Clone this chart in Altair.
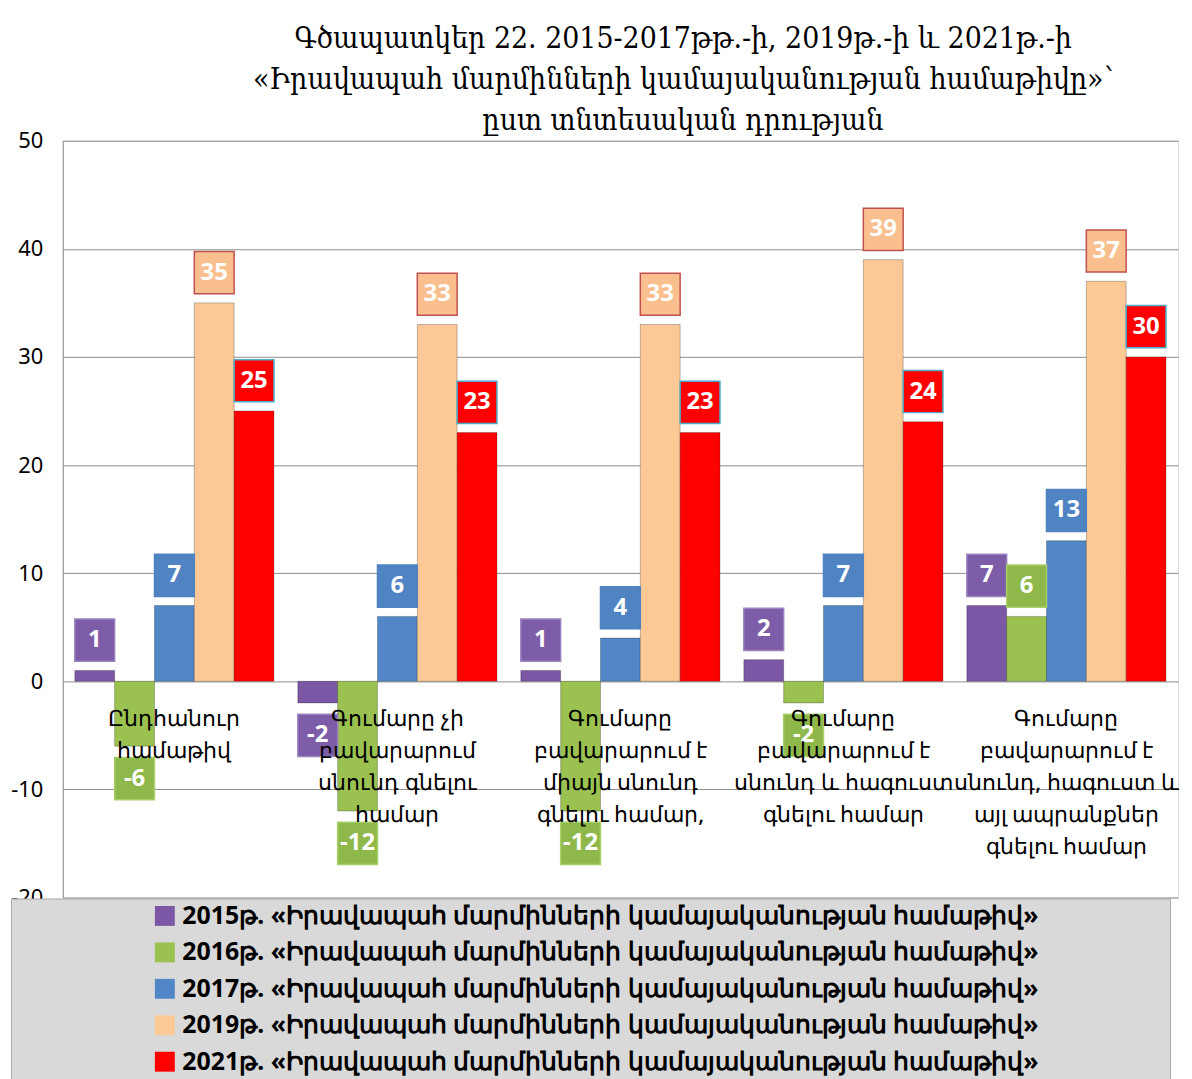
import altair as alt
import pandas as pd

categories = [
    "Ընդհանուր\nհամաթիվ",
    "Գումարը չի\nբավարարում\nսնունդ գնելու\nհամար",
    "Գումարը\nբավարարում է\nմիայն սնունդ\nգնելու համար,",
    "Գումարը\nբավարարում է\nսնունդ և հագուստ\nգնելու համար",
    "Գումարը\nբավարարում է\nսնունդ, հագուստ և\nայլ ապրանքներ\nգնելու համար",
]
series = [
    "2015թ. «Իրավապահ մարմինների կամայականության համաթիվ»",
    "2016թ. «Իրավապահ մարմինների կամայականության համաթիվ»",
    "2017թ. «Իրավապահ մարմինների կամայականության համաթիվ»",
    "2019թ. «Իրավապահ մարմինների կամայականության համաթիվ»",
    "2021թ. «Իրավապահ մարմինների կամայականության համաթիվ»",
]
values_2015 = [1, -2, 1, 2, 7]
values_2016 = [-6, -12, -12, -2, 6]
values_2017 = [7, 6, 4, 7, 13]
values_2019 = [35, 33, 33, 39, 37]
values_2021 = [25, 23, 23, 24, 30]
y_ticks = [-20, -10, 0, 10, 20, 30, 40, 50]

title_lines = [
    "Գծապատկեր 22. 2015-2017թթ.-ի, 2019թ.-ի և 2021թ.-ի",
    "«Իրավապահ մարմինների կամայականության համաթիվը»՝",
    "ըստ տնտեսական դրության",
]

bar_colors = ["#7b57a6", "#9bc251", "#5187c7", "#fcc896", "#ff0000"]
box_colors = ["#7d5ca8", "#8fb84a", "#4f83c2", "#f9bf8f", "#ff0000"]
box_strokes = ["#9a84bd", "#a9cf6a", "#4f83c2", "#c0504d", "#4bacc6"]

rows = []
all_values = [values_2015, values_2016, values_2017, values_2019, values_2021]
for s, vals in zip(series, all_values):
    for c, v in zip(categories, vals):
        rows.append({"cat": c, "series": s, "value": v})
df = pd.DataFrame(rows)
cat_df = pd.DataFrame({"cat": categories})

FONT = "Noto Sans"

x_enc = alt.X("cat:N", sort=categories, axis=None,
              scale=alt.Scale(paddingInner=0.107, paddingOuter=0.054))
xoff_enc = alt.XOffset("series:N", sort=series,
                       scale=alt.Scale(paddingInner=0, paddingOuter=0))
y_scale = alt.Scale(domain=[-20, 50], nice=False)

pad_right = "\u2003" * 5 + "\u2009" + "\u200b"

bars = alt.Chart(df).mark_bar(stroke="rgba(0,0,0,0.25)", strokeWidth=1).encode(
    x=x_enc,
    xOffset=xoff_enc,
    y=alt.Y("value:Q", scale=y_scale, title=None,
            axis=alt.Axis(values=y_ticks, grid=True, gridColor="#8c8c8c",
                          gridWidth=1, ticks=False, domain=True,
                          domainColor="#8c8c8c", labelFont=FONT,
                          labelFontSize=22, labelColor="black",
                          labelPadding=20, labelExpr="'' + datum.value")),
    color=alt.Color("series:N", sort=series,
                    scale=alt.Scale(domain=series, range=bar_colors),
                    legend=alt.Legend(
                        title=None, orient="none", legendX=-52, legendY=761,
                        direction="vertical", fillColor="#d9d9d9",
                        strokeColor="#a6a6a6", padding=5,
                        symbolType="square", symbolSize=400,
                        symbolStrokeWidth=0, symbolOffset=137,
                        labelFont=FONT, labelFontSize=25,
                        labelFontWeight="bold", labelColor="black",
                        labelLimit=3000, rowPadding=10.6, labelOffset=5,
                        labelExpr="datum.label + '" + pad_right + "'")),
)

label_base = alt.Chart(df).transform_calculate(
    lc="datum.value >= 0 ? datum.value + 2.8 : datum.value - 3.0",
    lo="datum.lc - 1.95",
    hi="datum.lc + 1.95",
    txt="'' + datum.value",
)

boxes = label_base.mark_bar(strokeWidth=1.5).encode(
    x=x_enc,
    xOffset=xoff_enc,
    y=alt.Y("lo:Q", scale=y_scale),
    y2="hi:Q",
    fill=alt.Fill("series:N", sort=series,
                  scale=alt.Scale(domain=series, range=box_colors), legend=None),
    stroke=alt.Stroke("series:N", sort=series,
                      scale=alt.Scale(domain=series, range=box_strokes), legend=None),
)

box_text = label_base.mark_text(font=FONT, fontSize=24, fontWeight="bold",
                                color="white", baseline="middle").encode(
    x=x_enc,
    xOffset=xoff_enc,
    y=alt.Y("lc:Q", scale=y_scale),
    text=alt.Text("txt:N"),
)

cat_text = alt.Chart(cat_df).mark_text(
    font=FONT, fontSize=22, fontWeight=500, color="black", baseline="top",
    lineBreak="\n", lineHeight=32, dy=28, align="center"
).encode(
    x=x_enc,
    y=alt.datum(0),
    text="cat:N",
)

chart = alt.layer(bars, boxes, box_text, cat_text).properties(
    width=1120, height=760,
    title=alt.Title(text=title_lines, font="DejaVu Serif Condensed",
                    fontSize=30, fontWeight="normal", lineHeight=41,
                    anchor="middle", dx=63, offset=-6, color="black"),
).configure_view(fill="#d9d9d9", stroke="#8c8c8c", strokeWidth=1
).configure(background="white", padding={"left": 2, "top": 14, "right": 5, "bottom": 0})

chart.save("out.html", embed_options={"renderer": "svg", "actions": False})
